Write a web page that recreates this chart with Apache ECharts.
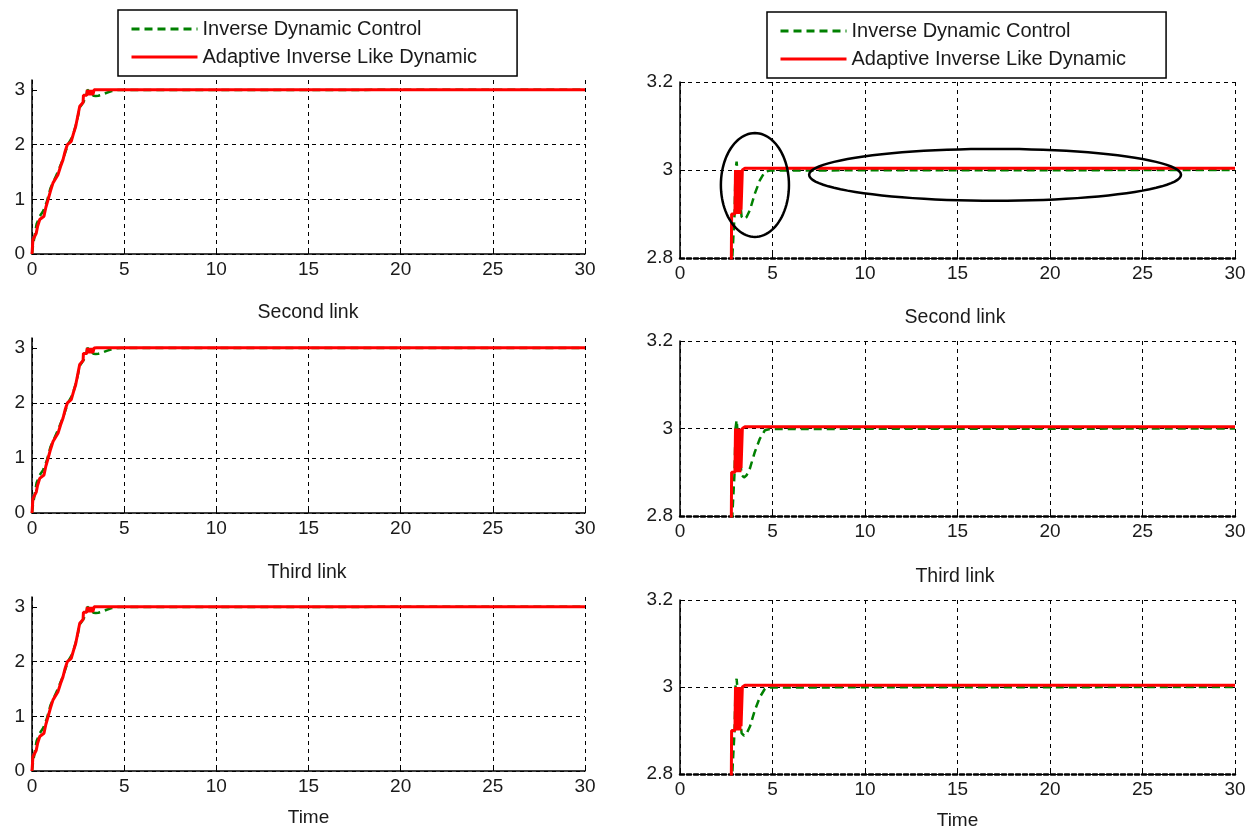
<!DOCTYPE html>
<html>
<head>
<meta charset="utf-8">
<title>Link tracking</title>
<script src="https://cdn.jsdelivr.net/npm/echarts@6/dist/echarts.min.js"></script>
<style>
  html, body { margin: 0; padding: 0; background: #fff; }
  #chart { width: 1250px; height: 831px; }
</style>
</head>
<body>
<div id="chart"></div>
<script>
// series / labels
const seriesNames = ['Inverse Dynamic Control', 'Adaptive Inverse Like Dynamic']
const panelTitles = ['', 'Second link', 'Third link']
const timeTicks = [0, 5, 10, 15, 20, 25, 30]
const fullYTicks = [0, 1, 2, 3]
const zoomYTicks = [2.8, 3, 3.2]

// [time, angle] (same response for all three links)
const inverseDynamic = [
  [0, 0], [0.05, 0.14], [0.15, 0.35], [0.25, 0.55], [0.42, 0.69], [0.6, 0.78],
  [0.8, 0.95], [1.0, 1.2], [1.2, 1.35], [1.4, 1.5], [1.7, 1.75], [1.95, 2.0],
  [2.2, 2.15], [2.4, 2.38], [2.6, 2.68], [2.8, 2.78], [2.95, 2.9], [3.0, 3.0],
  [3.06, 3.019], [3.2, 2.95], [3.33, 2.894], [3.46, 2.888], [3.6, 2.893],
  [3.78, 2.909], [4.05, 2.947], [4.32, 2.977], [4.59, 2.996], [4.86, 2.999],
  [30, 3.0],
]
const adaptiveInverse = [
  [0, 0], [0.05, 0.26], [0.23, 0.38], [0.3, 0.5], [0.42, 0.63], [0.65, 0.69],
  [0.75, 0.85], [0.87, 0.99], [1.0, 1.15], [1.14, 1.3], [1.41, 1.45], [1.55, 1.6],
  [1.68, 1.72], [1.8, 1.88], [1.92, 2.0], [2.13, 2.06], [2.25, 2.2], [2.37, 2.33],
  [2.5, 2.55], [2.59, 2.7], [2.77, 2.77], [2.79, 2.9], [2.97, 2.9],
  [3.0, 3.0], [3.03, 2.9], [3.07, 3.0], [3.1, 2.9], [3.14, 3.0], [3.17, 2.9],
  [3.21, 3.0], [3.24, 2.9], [3.28, 3.0], [3.3, 2.91], [3.37, 3.0], [3.51, 3.004],
  [30, 3.004],
]
// annotation ellipses on the first zoomed panel: [centre t, centre y, radius t, radius y]
const highlightEllipses = [
  [4.05, 2.966, 1.84, 0.118],
  [17.03, 2.989, 10.05, 0.059],
]

const FONT = 'Liberation Sans, Arial, sans-serif'
const INK = '#1a1a1a'
const GREEN = '#008000'
const RED = '#ff0000'

// left column: full response, right column: zoom near the set point
const grids = [
  { left: 32, top: 80, width: 553, height: 174 },
  { left: 680, top: 82, width: 555, height: 176 },
  { left: 32, top: 338, width: 553, height: 175 },
  { left: 680, top: 341, width: 555, height: 175 },
  { left: 32, top: 597, width: 553, height: 174 },
  { left: 680, top: 600, width: 555, height: 174 },
]

const gridLine = { show: true, lineStyle: { color: '#000', type: [4, 4], width: 1 } }

function xAxisFor(i) {
  const zoomed = i % 2 === 1
  const last = i >= 4
  return {
    gridIndex: i,
    type: 'value',
    min: 0,
    max: 30,
    interval: 5,
    name: last ? 'Time' : '',
    nameLocation: 'middle',
    nameGap: 37,
    nameTextStyle: { color: INK, fontFamily: FONT, fontSize: 19 },
    axisLine: {
      show: true,
      onZero: false,
      lineStyle: zoomed ? { color: '#000', width: 2.5, type: [4, 3] } : { color: '#000', width: 1.5 },
    },
    axisTick: { show: true, inside: true, length: 5, lineStyle: { color: '#000' } },
    axisLabel: {
      color: INK, fontFamily: FONT, fontSize: 19, margin: 6,
      customValues: timeTicks,
    },
    splitLine: gridLine,
  }
}

function yAxisFor(i) {
  const zoomed = i % 2 === 1
  return {
    gridIndex: i,
    type: 'value',
    min: zoomed ? 2.8 : 0,
    max: zoomed ? 3.2 : 3.18,
    interval: zoomed ? 0.2 : 1,
    axisLine: { show: true, onZero: false, lineStyle: { color: '#000', width: 1.5 } },
    axisTick: {
      show: true, inside: true, length: 5, lineStyle: { color: '#000' },
      customValues: zoomed ? zoomYTicks : fullYTicks,
    },
    axisLabel: {
      color: INK, fontFamily: FONT, fontSize: 19, margin: 7,
      customValues: zoomed ? zoomYTicks : fullYTicks,
      formatter: (v) => String(Math.round(v * 10) / 10),
    },
    splitLine: Object.assign({}, gridLine, { showMaxLine: zoomed }),
  }
}

function ellipseItem(params, api) {
  const c = api.coord([api.value(0), api.value(1)])
  const r = api.size([api.value(2), api.value(3)])
  const points = []
  for (let k = 0; k < 96; k++) {
    const a = (k / 96) * Math.PI * 2
    points.push([c[0] + r[0] * Math.cos(a), c[1] + r[1] * Math.sin(a)])
  }
  return {
    type: 'polygon',
    shape: { points },
    style: { fill: 'none', stroke: '#000', lineWidth: 2.5 },
  }
}

const series = []
grids.forEach((_, i) => {
  series.push({
    name: seriesNames[0],
    type: 'line',
    xAxisIndex: i,
    yAxisIndex: i,
    data: inverseDynamic,
    showSymbol: false,
    symbol: 'none',
    clip: true,
    animation: false,
    lineStyle: { color: GREEN, width: 2.5, type: [8, 5] },
    itemStyle: { color: GREEN },
  })
  series.push({
    name: seriesNames[1],
    type: 'line',
    xAxisIndex: i,
    yAxisIndex: i,
    data: adaptiveInverse,
    showSymbol: false,
    symbol: 'none',
    clip: true,
    animation: false,
    lineStyle: { color: RED, width: 3 },
    itemStyle: { color: RED },
  })
})
series.push({
  type: 'custom',
  xAxisIndex: 1,
  yAxisIndex: 1,
  data: highlightEllipses,
  renderItem: ellipseItem,
  animation: false,
  silent: true,
  z: 5,
})

function legendAt(left, top) {
  return {
    data: seriesNames,
    orient: 'vertical',
    left,
    top,
    itemWidth: 66,
    itemHeight: 14,
    itemGap: 8,
    padding: [9, 40, 9, 12],
    borderColor: '#000',
    borderWidth: 1.5,
    backgroundColor: '#fff',
    itemStyle: { opacity: 0, borderWidth: 0 },
    lineStyle: { width: 3 },
    textStyle: { color: INK, fontFamily: FONT, fontSize: 20 },
    selectedMode: false,
  }
}

const titleSpots = [
  [308, 313, 1], [955, 318, 1],
  [307, 573, 2], [955, 577, 2],
]

const chart = echarts.init(document.getElementById('chart'), null, { renderer: 'canvas' })
chart.setOption({
  backgroundColor: '#fff',
  animation: false,
  grid: grids,
  xAxis: grids.map((_, i) => xAxisFor(i)),
  yAxis: grids.map((_, i) => yAxisFor(i)),
  legend: [legendAt(118, 10), legendAt(767, 12)],
  graphic: titleSpots.map(([x, y, k]) => ({
    type: 'text',
    x,
    y,
    style: {
      text: panelTitles[k],
      fill: INK,
      font: `19.5px ${FONT}`,
      textAlign: 'center',
      textVerticalAlign: 'middle',
    },
  })),
  series,
})
</script>
</body>
</html>
